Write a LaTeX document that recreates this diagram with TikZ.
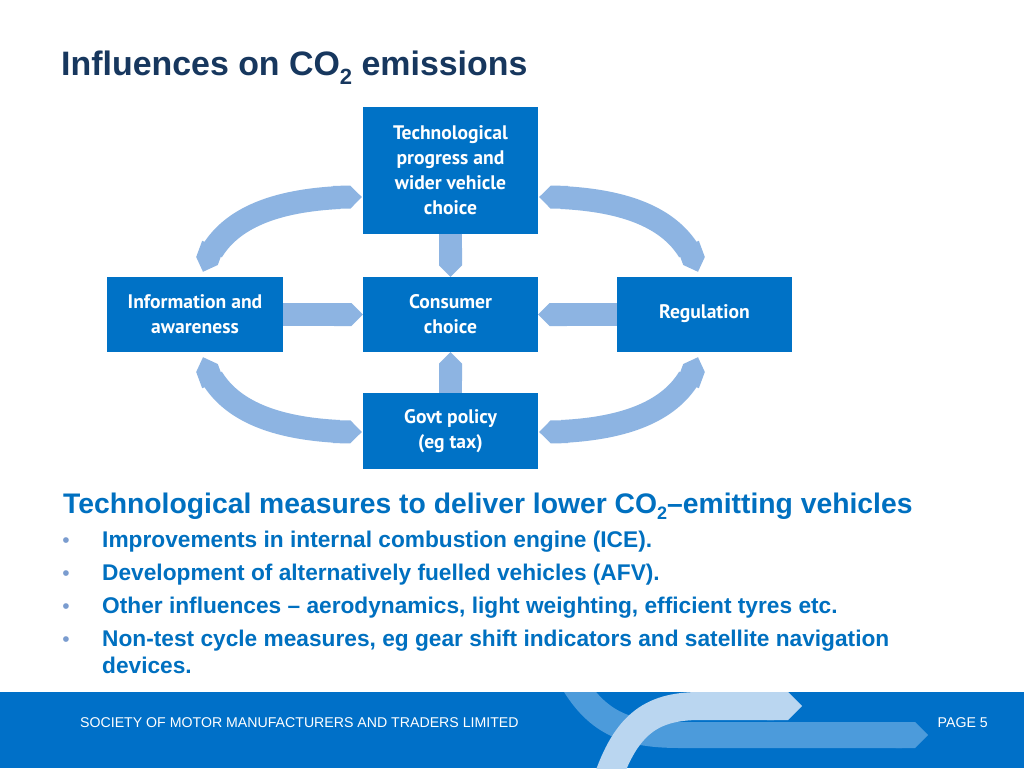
\documentclass[tikz,border=0pt]{standalone}
\usepackage{fontspec}
\setmainfont{Liberation Sans}
\newfontfamily\boxfont{PT Sans}
\usetikzlibrary{arrows.meta,bending,calc}
\definecolor{boxblue}{HTML}{0072C6}
\definecolor{arrowblue}{HTML}{8DB4E2}
\definecolor{titlenavy}{HTML}{17375E}
\definecolor{textblue}{HTML}{0070C0}
\definecolor{bulletgray}{HTML}{7A9CCF}
\definecolor{footblue}{HTML}{0070C8}
\definecolor{footmid}{HTML}{4C9BDB}
\definecolor{footlight}{HTML}{BAD6F0}
\begin{document}
\begin{tikzpicture}[x=1pt,y=-1pt,
  box/.style={fill=boxblue, draw=none, text=white, align=center, inner sep=0pt,
    font=\boxfont\bfseries\fontsize{19.6}{25}\selectfont},
  band/.style={draw=arrowblue, line width=23pt},
  straightarrow/.style={band, -{Triangle Cap[]}},
  curvearrow/.style={band, {Triangle Cap[]}-{Triangle Cap[]}},
  plain/.style={inner sep=0pt, anchor=base west},
  bullettext/.style={plain, text=textblue, font=\bfseries\fontsize{22.7}{26}\selectfont},
  bulletdot/.style={inner sep=0pt, text=bulletgray, font=\fontsize{21}{21}\selectfont},
  foottext/.style={inner sep=0pt, text=white, font=\fontsize{14.15}{16}\selectfont}]
\useasboundingbox (0,0) rectangle (1024,768);
\fill[white] (0,0) rectangle (1024,768);

% title
\node[plain, text=titlenavy, font=\bfseries\fontsize{33.9}{40}\selectfont] (title) at (61,75)
  {Influences on CO\raisebox{-9pt}{\fontsize{22}{22}\selectfont 2} emissions};

% boxes
\node[box, minimum width=175pt, minimum height=127pt] (tech) at (450.5,170) {Technological\\progress and\\wider vehicle\\choice};
\node[box, minimum width=176pt, minimum height=75pt] (info) at (195,314.5) {Information and\\awareness};
\node[box, minimum width=175pt, minimum height=75pt] (cons) at (450.5,314.5) {Consumer\\choice};
\node[box, minimum width=175pt, minimum height=75pt, text depth=5pt] (reg) at (704.5,314.5) {Regulation};
\node[box, minimum width=175pt, minimum height=76pt] (govt) at (450.5,431) {Govt policy\\(eg tax)};

% straight arrows
\draw[straightarrow] (tech.south) -- (cons.north);
\draw[straightarrow] (govt.north) -- (cons.south);
\draw[straightarrow] (info.east) -- (cons.west);
\draw[straightarrow] (reg.west) -- (cons.east);

% curved arrows
\draw[curvearrow] ($(info.north)+(8,-5)$) .. controls +(15,-50) and +(-92,0) .. ($(tech.west)+(-1,27)$);
\draw[curvearrow] ($(reg.north)+(-6.5,-5)$) .. controls +(-15,-50) and +(92,0) .. ($(tech.east)+(1,27)$);
\draw[curvearrow] ($(info.south)+(8,5)$) .. controls +(15,50) and +(-92,0) .. ($(govt.west)+(-1,1)$);
\draw[curvearrow] ($(reg.south)+(-6.5,5)$) .. controls +(-15,50) and +(92,0) .. ($(govt.east)+(1,1)$);

% subtitle and bullets
\node[plain, text=textblue, font=\bfseries\fontsize{28.3}{32}\selectfont] (sub) at (63,513)
  {Technological measures to deliver lower CO\raisebox{-6pt}{\fontsize{18}{18}\selectfont 2}–emitting vehicles};
\node[bulletdot] (d1) at (66,543) {•};
\node[bullettext] (b1) at (102,547) {Improvements in internal combustion engine (ICE).};
\node[bulletdot] (d2) at (66,576) {•};
\node[bullettext] (b2) at (102,580) {Development of alternatively fuelled vehicles (AFV).};
\node[bulletdot] (d3) at (66,609) {•};
\node[bullettext] (b3) at (102,613) {Other influences – aerodynamics, light weighting, efficient tyres etc.};
\node[bulletdot] (d4) at (66,642) {•};
\node[bullettext] (b4) at (102,646) {Non-test cycle measures, eg gear shift indicators and satellite navigation};
\node[bullettext] (b5) at (102,673) {devices.};

% footer
\fill[footblue] (0,692) rectangle (1024,768);
\begin{scope}
  \clip (0,692) rectangle (1024,768);
  \draw[footmid, line width=26pt, -{Triangle Cap[]}] (572,680) .. controls (598,725) and (630,735) .. (680,735) -- (928,735);
  \draw[footlight, line width=28pt, -{Triangle Cap[]}] (604,790) .. controls (624,725) and (650,706) .. (700,706) -- (802,706);
\end{scope}
\node[foottext, anchor=base west] (foot) at (80,727) {SOCIETY OF MOTOR MANUFACTURERS AND TRADERS LIMITED};
\node[foottext, anchor=base east] (page) at (988,727) {PAGE 5};
\end{tikzpicture}
\end{document}
